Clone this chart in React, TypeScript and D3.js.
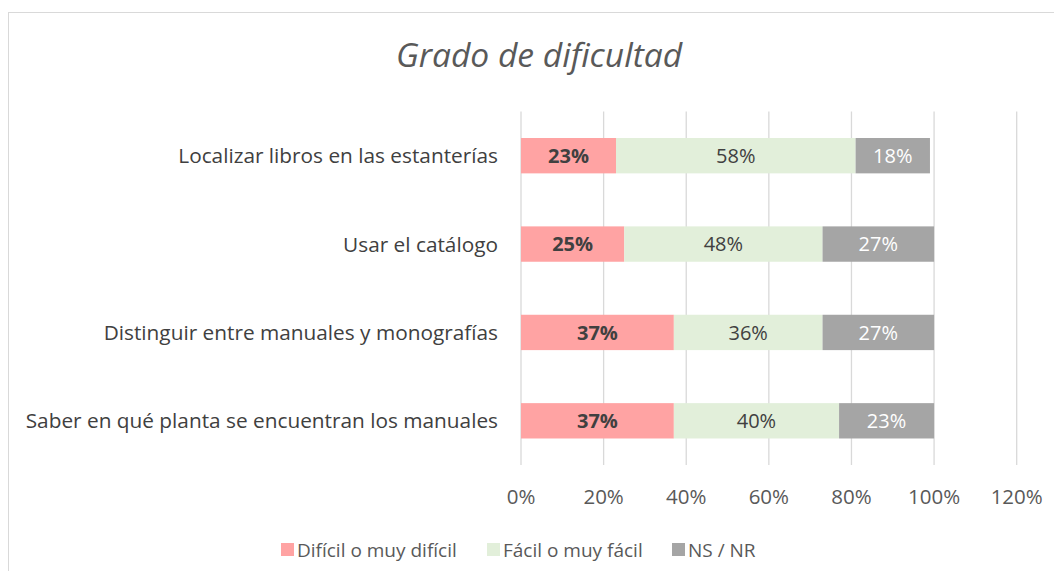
import React from 'react';
import * as d3 from 'd3';

const categories = [
  'Localizar libros en las estanterías',
  'Usar el catálogo',
  'Distinguir entre manuales y monografías',
  'Saber en qué planta se encuentran los manuales',
];
const seriesNames = ['Difícil o muy difícil', 'Fácil o muy fácil', 'NS / NR'];
const dificil = [23, 25, 37, 37];
const facil = [58, 48, 36, 40];
const nsnr = [18, 27, 27, 23];
const xTicks = [0, 20, 40, 60, 80, 100, 120];

const colors = ['#FFA3A3', '#E2EFDA', '#A5A5A5'];
const labelColors = ['#404040', '#404040', '#FFFFFF'];
const labelWeights = [700, 400, 400];

const font = "'Open Sans', 'Noto Sans', sans-serif";

export default function App() {
  const width = 1062;
  const height = 579;
  const top = 111.5;
  const bottom = 465;

  const x = d3.scaleLinear().domain([0, 120]).range([521, 1016.7]);
  const y = d3.scaleBand().domain(categories).range([top, bottom]).paddingInner(0.6).paddingOuter(0.3);

  const rows = categories.map((c, i) => ({ cat: c, v: [dificil[i], facil[i], nsnr[i]] }));
  const stacked = d3.stack<any>().keys(['0', '1', '2']).value((d: any, k: string) => d.v[+k])(rows);

  // legend swatch positions
  const legendX = [281, 487, 672];

  return (
    <div style={{ margin: -8 }}>
      <svg width={width} height={height} style={{ display: 'block', fontFamily: font }}>
        <rect x={0} y={0} width={width} height={height} fill="#fff" />
        <rect x={8.5} y={12.5} width={1070} height={580} fill="#fff" stroke="#D9D9D9" />
        <text x={539} y={67} textAnchor="middle" fontSize={33.6} fontStyle="italic" fill="#595959">
          Grado de dificultad
        </text>

        {xTicks.map((t) => (
          <g key={t}>
            <line x1={x(t)} x2={x(t)} y1={top} y2={bottom} stroke="#D9D9D9" strokeWidth={1.3} />
            <text x={x(t)} y={504} textAnchor="middle" fontSize={20.5} fill="#595959">
              {t}%
            </text>
          </g>
        ))}

        {categories.map((c) => (
          <text key={c} x={498} y={y(c)! + y.bandwidth() / 2} dy="0.36em" textAnchor="end" fontSize={20.8} fill="#404040">
            {c}
          </text>
        ))}

        {stacked.map((s, si) => (
          <g key={si}>
            {s.map((d: any, i) => {
              const x0 = x(d[0]);
              const x1 = x(d[1]);
              const yy = y(d.data.cat)!;
              return (
                <g key={i}>
                  <rect x={x0} y={yy} width={x1 - x0} height={y.bandwidth()} fill={colors[si]} />
                  <text
                    x={(x0 + x1) / 2}
                    y={yy + y.bandwidth() / 2}
                    dy="0.36em"
                    textAnchor="middle"
                    fontSize={20}
                    fontWeight={labelWeights[si]}
                    fill={labelColors[si]}
                  >
                    {d.data.v[si]}%
                  </text>
                </g>
              );
            })}
          </g>
        ))}

        {seriesNames.map((n, i) => (
          <g key={n}>
            <rect x={legendX[i]} y={543} width={13} height={13} fill={colors[i]} />
            <text x={legendX[i] + 16} y={556.5} fontSize={19} fill="#595959">
              {n}
            </text>
          </g>
        ))}
      </svg>
    </div>
  );
}
